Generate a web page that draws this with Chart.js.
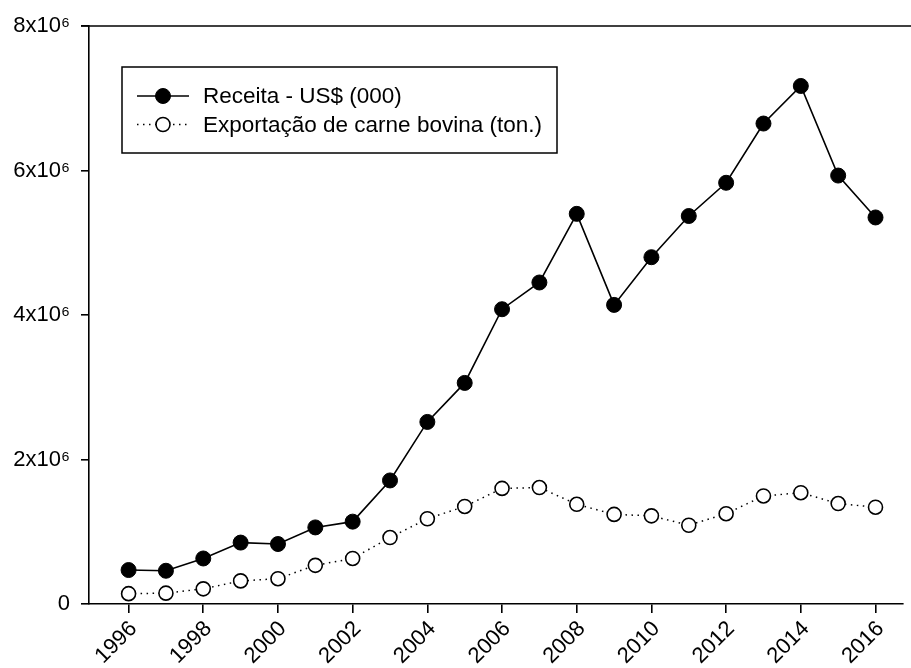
<!DOCTYPE html>
<html>
<head>
<meta charset="utf-8">
<script src="https://cdn.jsdelivr.net/npm/chart.js@4/dist/chart.umd.min.js"></script>
<style>
html,body{margin:0;padding:0;background:#fff;}
canvas{display:block;}
</style>
</head>
<body>
<canvas id="c" width="911" height="668"></canvas>
<script>
const years = [1996,1997,1998,1999,2000,2001,2002,2003,2004,2005,2006,2007,2008,2009,2010,2011,2012,2013,2014,2015,2016];
const receita = [470000,460000,630000,850000,830000,1060000,1140000,1710000,2520000,3060000,4080000,4450000,5400000,4140000,4800000,5370000,5830000,6650000,7170000,5930000,5350000];
const exportacao = [143000,150000,210000,320000,350000,535000,630000,920000,1180000,1350000,1600000,1612000,1380000,1240000,1220000,1090000,1250000,1495000,1540000,1390000,1340000];
const seriesLabels = ['Receita - US$ (000)', 'Exportação de carne bovina (ton.)'];
const xTicks = [1996,1998,2000,2002,2004,2006,2008,2010,2012,2014,2016];
const yTicks = [0,2000000,4000000,6000000,8000000];
const yTickLabels = ['0','2x10⁶','4x10⁶','6x10⁶','8x10⁶'];

const FONT = '"Liberation Sans", Arial, sans-serif';

const frame = {
  id: 'frame',
  afterDraw(chart) {
    const ctx = chart.ctx, a = chart.chartArea;
    ctx.save();
    ctx.strokeStyle = '#000';
    ctx.lineWidth = 1.5;
    ctx.beginPath();
    ctx.moveTo(a.left - 8, a.top);
    ctx.lineTo(chart.width, a.top);
    ctx.stroke();
    // legend box
    const bx = a.left + 33, by = a.top + 41, bw = 435, bh = 86;
    ctx.lineWidth = 1.5;
    ctx.strokeRect(bx, by, bw, bh);
    const rows = [by + 29, by + 57.5];
    const ds = chart.data.datasets;
    ds.forEach((d, i) => {
      const y = rows[i];
      ctx.save();
      ctx.strokeStyle = '#000';
      ctx.lineWidth = d.borderWidth;
      ctx.setLineDash(d.borderDash || []);
      ctx.beginPath();
      ctx.moveTo(bx + 15, y);
      ctx.lineTo(bx + 67, y);
      ctx.stroke();
      ctx.setLineDash([]);
      ctx.beginPath();
      ctx.arc(bx + 41, y, d.pointRadius, 0, Math.PI * 2);
      ctx.fillStyle = d.pointBackgroundColor;
      ctx.fill();
      ctx.lineWidth = d.pointBorderWidth;
      ctx.strokeStyle = '#000';
      ctx.stroke();
      ctx.restore();
      ctx.fillStyle = '#000';
      ctx.font = '22.5px ' + FONT;
      ctx.textBaseline = 'middle';
      ctx.textAlign = 'left';
      ctx.fillText(seriesLabels[i], bx + 81, y + 1);
    });
    ctx.restore();
  }
};

new Chart(document.getElementById('c'), {
  type: 'line',
  data: {
    datasets: [
      {
        label: seriesLabels[0],
        data: years.map((y, i) => ({x: y, y: receita[i]})),
        borderColor: '#000',
        borderWidth: 1.6,
        pointRadius: 7.5,
        pointBackgroundColor: '#000',
        pointBorderColor: '#000',
        pointBorderWidth: 1,
        tension: 0
      },
      {
        label: seriesLabels[1],
        data: years.map((y, i) => ({x: y, y: exportacao[i]})),
        borderColor: '#000',
        borderWidth: 1.5,
        borderDash: [1.5, 4.5],
        pointRadius: 7,
        pointBackgroundColor: '#fff',
        pointBorderColor: '#000',
        pointBorderWidth: 1.6,
        tension: 0
      }
    ]
  },
  options: {
    responsive: false,
    animation: false,
    layout: {padding: {top: 26, right: 0, left: 0, bottom: 0}},
    plugins: {legend: {display: false}, tooltip: {enabled: false}},
    scales: {
      x: {
        type: 'linear',
        min: 1994.94,
        max: 2016.72,
        afterBuildTicks: s => { s.ticks = xTicks.map(v => ({value: v})); },
        afterFit: s => { s.height = 64; },
        border: {display: true, color: '#000', width: 1.6},
        grid: {display: true, drawOnChartArea: false, drawTicks: true, tickLength: 9, color: '#000', lineWidth: 1.6},
        ticks: {
          color: '#000',
          font: {family: FONT, size: 22},
          minRotation: 45,
          maxRotation: 45,
          padding: 3,
          labelOffset: 5,
          autoSkip: false,
          callback: v => String(v)
        }
      },
      y: {
        type: 'linear',
        min: 0,
        max: 8000000,
        afterBuildTicks: s => { s.ticks = yTicks.map(v => ({value: v})); },
        afterFit: s => { s.width = 89; },
        border: {display: true, color: '#000', width: 1.6},
        grid: {display: true, drawOnChartArea: false, drawTicks: true, tickLength: 8, color: '#000', lineWidth: 1.6},
        ticks: {
          color: '#000',
          font: {family: FONT, size: 22},
          padding: 11,
          callback: (v) => { const i = yTicks.indexOf(v); return i >= 0 ? yTickLabels[i] : ''; }
        }
      }
    }
  },
  plugins: [frame]
});
</script>
</body>
</html>
